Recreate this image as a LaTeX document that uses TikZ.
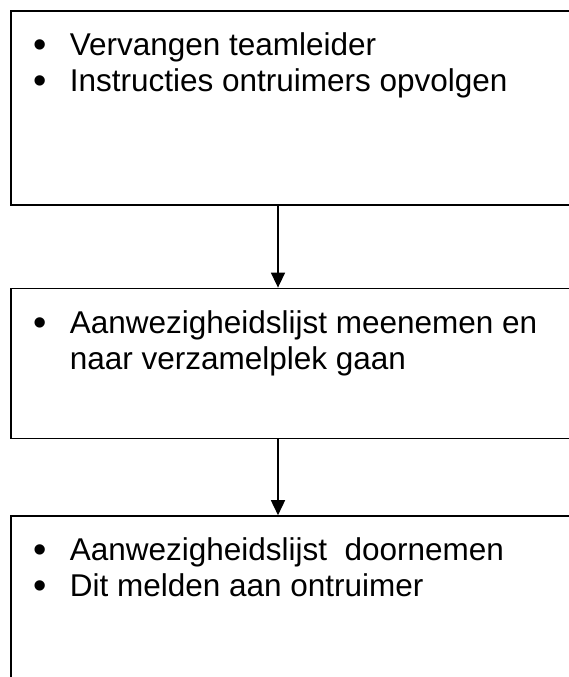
\documentclass[tikz,border=0pt]{standalone}
\usepackage{fontspec}
\setmainfont{Liberation Sans}
\usetikzlibrary{positioning}
\usetikzlibrary{arrows.meta}

% bullet item with hanging indent
\newcommand{\punt}[1]{\par\noindent\hangindent=36pt\hangafter=1\makebox[36pt][l]{\raisebox{-2pt}{\fontsize{38}{36}\selectfont\textbullet}}#1}
% fixed-height content of a box
\newcommand{\kaderinhoud}[2]{\parbox[c][#1][t]{540pt}{\fontsize{31.5}{36}\selectfont #2}}

\begin{document}
\begin{tikzpicture}[x=1pt, y=1pt,
	kader/.style={draw, line width=1.6pt, anchor=north west, inner xsep=23pt, inner ysep=22pt},
	pijl/.style={line width=1.6pt, -{Triangle[width=14pt, length=15pt]}}]
	 % picture frame, the boxes run past its right and bottom edge
	 \useasboundingbox (0,0) rectangle (569,-677);
	 \clip (0,0) rectangle (569,-677);

	 \node[kader] (stap1) at (10,-10) {\kaderinhoud{150pt}{\punt{Vervangen teamleider}\punt{Instructies ontruimers opvolgen}}};
	 \node[kader, below=82pt of stap1.south west, anchor=north west] (stap2) {\kaderinhoud{106pt}{\punt{Aanwezigheidslijst meenemen en\\naar verzamelplek gaan}}};
	 \node[kader, below=76pt of stap2.south west, anchor=north west] (stap3) {\kaderinhoud{200pt}{\punt{Aanwezigheidslijst\ \ doornemen}\punt{Dit melden aan ontruimer}}};

	 % arrows between the boxes
	 \draw[pijl] ([xshift=268pt]stap1.south west) -- ([xshift=268pt]stap2.north west);
	 \draw[pijl] ([xshift=268pt]stap2.south west) -- ([xshift=268pt]stap3.north west);
\end{tikzpicture}
\end{document}
